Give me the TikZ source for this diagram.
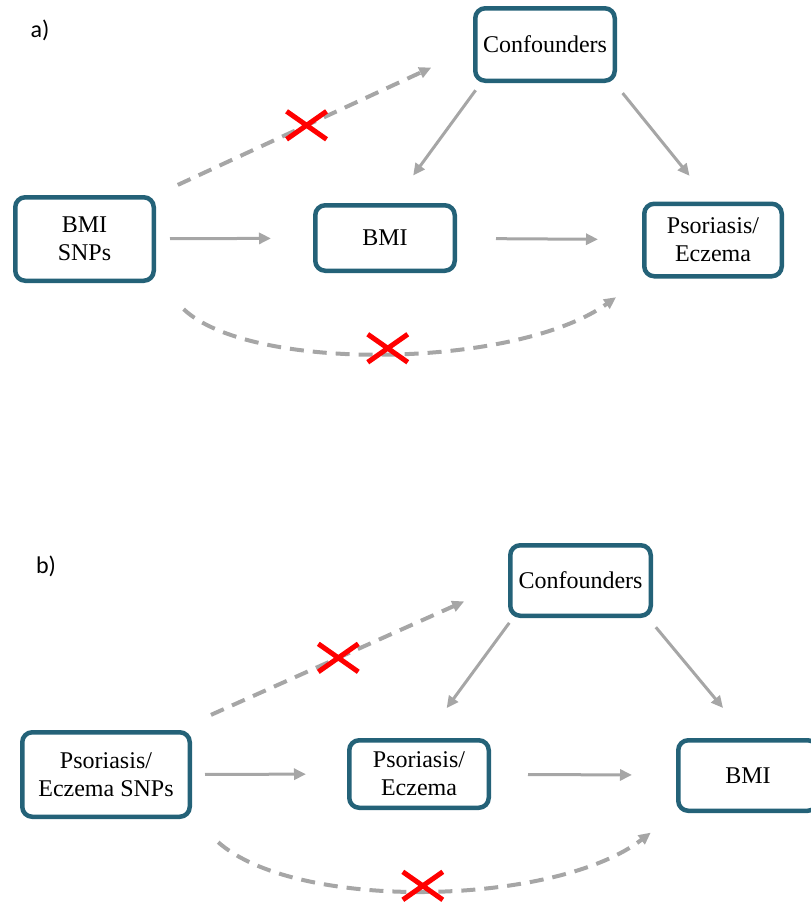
\documentclass[tikz,border=0pt]{standalone}
\usepackage{fontspec}
\setmainfont{Liberation Serif}
\newfontfamily\panelfont{Carlito}
\usepackage{tikz}
\usetikzlibrary{arrows.meta}
\usetikzlibrary{shapes.misc}
\definecolor{boxteal}{RGB}{36,98,120}
\definecolor{arrowgray}{RGB}{166,166,166}
\tikzset{
  box/.style={draw=boxteal, line width=4.5pt, rounded corners=10pt, fill=white,
    align=center, inner sep=0pt, font=\fontsize{24pt}{28pt}\selectfont},
  arr/.style={draw=arrowgray, line width=3pt, -{Triangle[length=12pt,width=11pt]}},
  dasharr/.style={arr, line width=4pt, dash pattern=on 14pt off 9pt},
  xmark/.style={cross out, draw=red, solid, arrows=-, line width=5pt,
    shorten <=0pt, shorten >=0pt, minimum width=40pt, minimum height=28pt,
    inner sep=0pt, outer sep=0pt},
  panel/.style={inner sep=0pt, font=\panelfont\fontsize{24pt}{28pt}\selectfont}
}

\begin{document}
\begin{tikzpicture}[x=1pt, y=-1pt]
  \useasboundingbox (0,0) rectangle (811,906);

  \node[panel] (labela) at (40,30) {a)};
  \node[box, minimum width=139.5pt, minimum height=72.5pt] (confa) at (545,44.5) {Confounders};
  \node[box, minimum width=138.5pt, minimum height=83.5pt] (snpa) at (84.5,239) {BMI\\SNPs};
  \node[box, minimum width=139.5pt, minimum height=65.5pt] (bmia) at (385,238) {BMI};
  \node[box, minimum width=137.5pt, minimum height=72.5pt] (psoa) at (713,240) {Psoriasis/\\Eczema};

  \draw[arr, shorten <=14pt, shorten >=42pt] (snpa) -- (bmia);
  \draw[arr, shorten <=39pt, shorten >=44pt] (bmia) -- (psoa);
  \draw[arr, shorten <=9pt, shorten >=34pt] (confa.211) -- (bmia.77);
  \draw[arr, shorten <=13pt, shorten >=33pt] (confa.331) -- (psoa.94);
  \draw[dasharr, shorten <=24pt, shorten >=46pt] (snpa.north east) -- node[xmark, pos=0.475] (xa1) {} (confa.183);
  \draw[dasharr, shorten <=38pt, shorten >=32pt] (snpa.south east) .. controls +(95,90) and +(-125,90) .. node[xmark, pos=0.5] (xa2) {} (psoa.south west);

  \node[panel] (labelb) at (46,566) {b)};
  \node[box, minimum width=140.5pt, minimum height=70.5pt] (confb) at (580.5,580.5) {Confounders};
  \node[box, minimum width=167.5pt, minimum height=84.5pt] (snpb) at (106,774.5) {Psoriasis/\\Eczema SNPs};
  \node[box, minimum width=139.5pt, minimum height=67.5pt] (psob) at (419,774) {Psoriasis/\\Eczema};
  \node[box, minimum width=139.5pt, minimum height=70.5pt] (bmib) at (748,775.5) {BMI};

  \draw[arr, shorten <=13pt, shorten >=41pt] (snpb) -- (psob);
  \draw[arr, shorten <=37pt, shorten >=44pt] (psob) -- (bmib);
  \draw[arr, shorten <=6pt, shorten >=37pt] (confb.209) -- (psob.81);
  \draw[arr, shorten <=12pt, shorten >=39pt] (confb.331) -- (bmib.north);
  \draw[dasharr, shorten <=37pt, shorten >=48pt] (snpb.32) -- node[xmark, pos=0.487] (xb1) {} (confb.181);
  \draw[dasharr, shorten <=35pt, shorten >=32pt] (snpb.south east) .. controls +(105,93) and +(-120,93) .. node[xmark, pos=0.49] (xb2) {} (bmib.south west);
\end{tikzpicture}
\end{document}
